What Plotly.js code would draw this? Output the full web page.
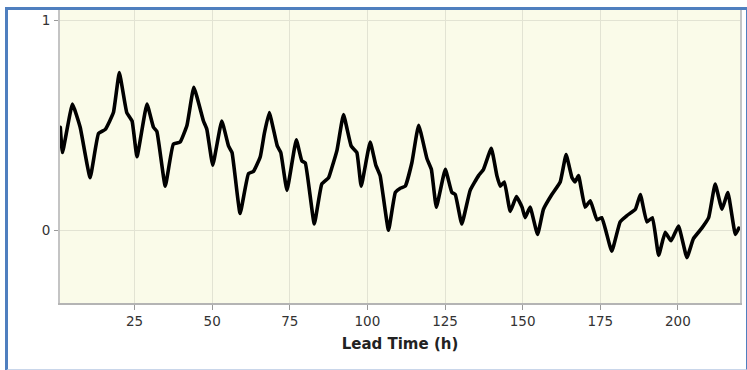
<!DOCTYPE html>
<html>
<head>
<meta charset="utf-8">
<script src="https://cdn.plot.ly/plotly-3.0.1.min.js"></script>
<style>
  html, body { margin: 0; padding: 0; background: #ffffff; }
  #wrap { position: relative; width: 747px; height: 370px; overflow: hidden; }
  #chart { position: absolute; left: 0; top: 0; width: 747px; height: 370px; }
  #frame {
    position: absolute; left: 5px; top: 7px; width: 738px; height: 359px;
    border-top: 3px solid #4f7fbf; border-left: 3px solid #4f7fbf;
    border-right: 3px solid #4f7fbf; border-bottom: 2px solid #c9d6ea;
    pointer-events: none;
  }
  #chart path.js-line { stroke-linejoin: round; stroke-linecap: round; }
</style>
</head>
<body>
<div id="wrap">
  <div id="chart"></div>
  <div id="frame"></div>
</div>
<script>
// Lead time (hours) and the forecast value at each lead time
const leadTime = [
  1.1, 1.8, 5.0, 7.5, 10.7, 13.4, 15.6, 18.2, 20.1, 22.5, 24.2, 25.8, 29.0, 31.1, 32.2,
  34.9, 37.5, 39.7, 41.9, 44.1, 47.2, 48.3, 50.2, 53.1, 55.3, 56.4, 59.0, 61.7, 63.3,
  65.5, 66.8, 68.4, 71.0, 72.1, 74.1, 77.1, 78.9, 80.0, 82.9, 85.3, 87.5, 88.6, 90.2,
  92.3, 94.8, 96.6, 98.0, 100.9, 102.7, 104.1, 106.8, 109.0, 110.6, 112.2, 114.3,
  116.5, 119.2, 120.6, 122.2, 125.1, 127.2, 128.3, 130.4, 133.1, 135.8, 137.4, 139.9,
  141.7, 142.8, 144.1, 146.0, 148.0, 149.8, 150.8, 152.4, 154.8, 156.7, 159.4, 162.1,
  164.0, 165.9, 166.9, 168.0, 170.1, 171.8, 173.9, 175.5, 178.7, 181.4, 183.6, 186.3,
  187.9, 190.0, 191.8, 193.8, 195.9, 197.8, 200.2, 202.9, 205.0, 207.7, 209.9, 212.0,
  214.2, 216.1, 218.5, 219.6
];
const forecast = [
  0.49, 0.37, 0.60, 0.49, 0.25, 0.46, 0.48, 0.56, 0.75, 0.56, 0.52, 0.35, 0.60, 0.49, 0.47,
  0.21, 0.41, 0.42, 0.50, 0.68, 0.52, 0.48, 0.31, 0.52, 0.40, 0.37, 0.08, 0.27, 0.28,
  0.35, 0.46, 0.56, 0.40, 0.37, 0.19, 0.43, 0.33, 0.32, 0.03, 0.22, 0.25, 0.30, 0.38,
  0.55, 0.40, 0.37, 0.21, 0.42, 0.31, 0.26, 0.00, 0.18, 0.20, 0.21, 0.32,
  0.50, 0.34, 0.29, 0.11, 0.29, 0.18, 0.17, 0.03, 0.19, 0.26, 0.29, 0.39,
  0.26, 0.21, 0.23, 0.09, 0.16, 0.11, 0.06, 0.11, -0.02, 0.10, 0.17, 0.23,
  0.36, 0.25, 0.23, 0.26, 0.11, 0.14, 0.05, 0.06, -0.10, 0.04, 0.07, 0.10,
  0.17, 0.04, 0.06, -0.12, -0.01, -0.05, 0.02, -0.13, -0.04, 0.01, 0.06, 0.22,
  0.10, 0.18, -0.02, 0.01
];
const xTickVals = [25, 50, 75, 100, 125, 150, 175, 200];
const yTickVals = [0, 1];
const yTickText = ['0', '1'];

const trace = {
  x: leadTime,
  y: forecast,
  type: 'scatter',
  mode: 'lines',
  line: { color: '#000000', width: 3.6, shape: 'spline', smoothing: 0.35 },
  hoverinfo: 'x+y'
};

const layout = {
  width: 747,
  height: 370,
  margin: { l: 60, r: 7, t: 10, b: 67, pad: 0 },
  paper_bgcolor: '#ffffff',
  plot_bgcolor: '#fafbe9',
  showlegend: false,
  font: { family: 'DejaVu Sans, sans-serif', size: 13, color: '#333333' },
  xaxis: {
    range: [1, 220],
    tickmode: 'array',
    tickvals: xTickVals,
    ticks: 'outside',
    ticklen: 5,
    tickcolor: '#9a9a9a',
    showgrid: true,
    gridcolor: '#e2e3d3',
    gridwidth: 1,
    zeroline: false,
    showline: true,
    linecolor: '#b4b4b4',
    linewidth: 2,
    tickfont: { family: 'DejaVu Sans, sans-serif', size: 13.5, color: '#333333' },
    title: {
      text: 'Lead Time (h)',
      font: { family: 'DejaVu Sans, sans-serif', size: 15, color: '#222222', weight: 'bold' },
      standoff: 10
    },
    automargin: false
  },
  yaxis: {
    range: [-0.346, 1.048],
    tickmode: 'array',
    tickvals: yTickVals,
    ticktext: yTickText,
    ticks: 'outside',
    ticklen: 4,
    tickcolor: '#9a9a9a',
    showgrid: true,
    gridcolor: '#e2e3d3',
    gridwidth: 1,
    zeroline: false,
    showline: true,
    mirror: true,
    linecolor: '#c4c4c4',
    linewidth: 2,
    ticklabelstandoff: 1,
    tickfont: { family: 'DejaVu Sans, sans-serif', size: 13.5, color: '#333333' },
    automargin: false
  }
};

Plotly.newPlot('chart', [trace], layout, { displayModeBar: false, staticPlot: true });
</script>
</body>
</html>
